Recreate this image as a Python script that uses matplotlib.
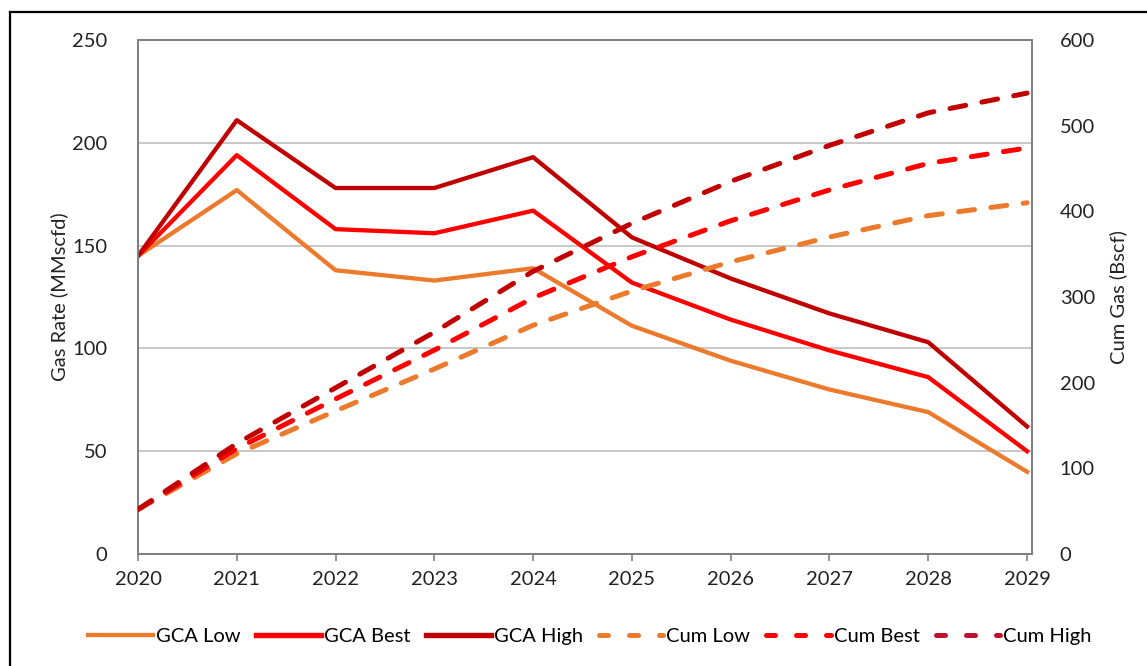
import matplotlib
matplotlib.use("Agg")
import matplotlib.pyplot as plt
from matplotlib.lines import Line2D

plt.rcParams['font.family'] = ['Lato', 'DejaVu Sans']

years = [2020, 2021, 2022, 2023, 2024, 2025, 2026, 2027, 2028, 2029]

# Gas rate forecasts (MMscfd)
gca_low = [145, 177, 138, 133, 139, 111, 94, 80, 69, 40]
gca_best = [145, 194, 158, 156, 167, 132, 114, 99, 86, 50]
gca_high = [145, 211, 178, 178, 193, 154, 134, 117, 103, 62]

# Cumulative gas (Bscf)
cum_low = [52, 117, 167, 216, 267, 307, 341, 370, 395, 410]
cum_best = [52, 123, 181, 238, 299, 347, 389, 425, 456, 474]
cum_high = [52, 129, 194, 259, 330, 386, 435, 477, 515, 538]

c_low = '#EC7A2C'
c_best = '#FF0000'
c_high = '#C00000'
c_cumhigh = '#C0102E'

W, H = 1147, 666
fig = plt.figure(figsize=(W / 100, H / 100), dpi=100)
ax = fig.add_axes([138 / W, 1 - 554 / H, (1032 - 138) / W, (554 - 40) / H])
ax2 = ax.twinx()

lw = 3.1
ax.plot(years, gca_low, color=c_low, lw=lw, solid_joinstyle='round', zorder=3)
ax.plot(years, gca_best, color=c_best, lw=lw, solid_joinstyle='round', zorder=3)
ax.plot(years, gca_high, color=c_high, lw=lw, solid_joinstyle='round', zorder=3)

dlw = 3.6
dash = (3.2, 3.3)
for vals, col in [(cum_low, c_low), (cum_best, c_best), (cum_high, c_high)]:
    ax2.plot(years, vals, color=col, lw=dlw, dashes=dash,
             dash_capstyle='round', zorder=3)

ax.set_xlim(2020, 2029.05)
ax.set_ylim(0, 250)
ax2.set_ylim(0, 600)
ax.set_yticks(range(0, 251, 50))
ax2.set_yticks(range(0, 601, 100))
ax.set_xticks(years)

grid_c = '#BFBFBF'
for v in range(50, 250, 50):
    ax.axhline(v, color=grid_c, lw=1.2, zorder=1)

spine_c = '#808080'
for a in (ax, ax2):
    for s in a.spines.values():
        s.set_color(spine_c)
        s.set_linewidth(1.4)
ax.spines['top'].set_color('#A6A6A6')

fs = 14.5
ax.tick_params(axis='x', direction='out', length=5, width=1.2, color=spine_c,
               labelsize=fs, pad=7, labelcolor='#222222')
ax.tick_params(axis='y', length=0, labelsize=fs, pad=22, labelcolor='#222222')
ax2.tick_params(axis='y', length=0, labelsize=fs, pad=20, labelcolor='#222222')

ax.set_ylabel('Gas Rate (MMscfd)', fontsize=fs, labelpad=3, color='#222222')
ax2.set_ylabel('Cum Gas (Bscf)', fontsize=fs, labelpad=10, color='#222222')

handles = [
    Line2D([], [], color=c_low, lw=lw),
    Line2D([], [], color=c_best, lw=lw + 0.8),
    Line2D([], [], color=c_high, lw=lw + 0.8),
    Line2D([], [], color=c_low, lw=dlw, dashes=(1.8, 4.2), dash_capstyle='round'),
    Line2D([], [], color=c_best, lw=dlw, dashes=(1.8, 4.2), dash_capstyle='round'),
    Line2D([], [], color=c_cumhigh, lw=dlw, dashes=(1.8, 4.2), dash_capstyle='round'),
]
labels = ['GCA Low', 'GCA Best', 'GCA High', 'Cum Low', 'Cum Best', 'Cum High']
fig.legend(handles, labels, loc='center', bbox_to_anchor=(590 / W, 1 - 636 / H),
           ncol=6, frameon=False, fontsize=fs, handlelength=3.2,
           handletextpad=0.15, columnspacing=0.8)

# outer frame (top and left edges)
fig.add_artist(Line2D([10 / W, 1.0], [1 - 12 / H, 1 - 12 / H],
                      transform=fig.transFigure, color='black', lw=1.6))
fig.add_artist(Line2D([10 / W, 10 / W], [0.0, 1 - 12 / H],
                      transform=fig.transFigure, color='black', lw=1.6))

fig.savefig('out.png', dpi=100)
